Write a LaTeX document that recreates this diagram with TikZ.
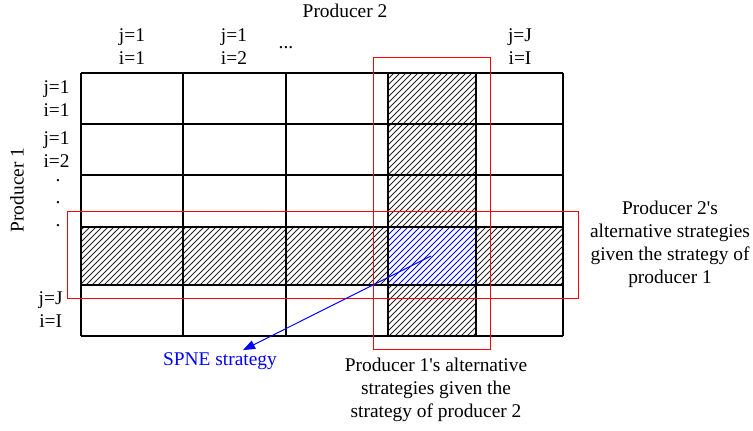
\documentclass[tikz,border=0pt]{standalone}
\usepackage{fontspec}
\setmainfont{Liberation Serif}
\usetikzlibrary{patterns,arrows.meta}
\begin{document}
\begin{tikzpicture}[x=0.5pt,y=-0.5pt,
		lbl/.style={font=\fontsize{9.7}{11.5}\selectfont,align=center,inner sep=1pt},
		redbox/.style={draw=red,line width=0.5pt},
		hatch/.style={pattern=north east lines,pattern color=black!85}]
	\useasboundingbox (0,0) rectangle (753,431);
	\fill[hatch] (388,73) rectangle (476,336);
	\fill[hatch] (81,227) rectangle (563,285);
	\fill[white] (388,227) rectangle (476,285);
	\fill[pattern=north east lines,pattern color=blue] (388,227) rectangle (476,285);
	\foreach \x in {81,183,286,388,476,563}
		\draw[line width=0.6pt] (\x,73) -- (\x,336);
	\foreach \y in {73,124,175,227,285,336}
		\draw[line width=0.6pt] (81,\y) -- (563,\y);
	\draw[line width=1pt] (388,73) rectangle (476,336);
	\draw[line width=1pt] (81,227) rectangle (563,285);
	\draw[redbox] (373,58) rectangle (490,350);
	\draw[redbox] (67,212) rectangle (578,299);
	\node[lbl] (prodtwo) at (345,11) {Producer 2};
	\node[lbl,rotate=90] (prodone) at (17,190) {Producer 1};
	\node[lbl] (colone) at (132,47) {j=1\\i=1};
	\node[lbl] (coltwo) at (234,47) {j=1\\i=2};
	\node[lbl,anchor=base] (coldots) at (286,49) {...};
	\node[lbl] (collast) at (520,47) {j=J\\i=I};
	\node[lbl,anchor=east] (rowone) at (72,99) {j=1\\i=1};
	\node[lbl,anchor=east] (rowtwo) at (72,150) {j=1\\i=2};
	\foreach \y/\n in {182/a,204/b,227/c}
		\node[lbl,anchor=base,inner sep=0pt,text height=1pt,text depth=0pt] (rowdot\n) at (58,\y) {.};
	\node[lbl,anchor=east] (rowlast) at (65,310) {j=J\\i=I};
	\coordinate (spne) at (431,256);
	\node[lbl,text=blue] (spnelbl) at (220,361) {SPNE strategy};
	\draw[blue,line width=0.5pt,-{Triangle[length=6pt,width=4.5pt]}] (spne) -- ([xshift=11.5pt]spnelbl.north);
	\node[lbl] (onealt) at (436,390) {Producer 1\textquotesingle s alternative\\strategies given the\\strategy of producer 2};
	\node[lbl] (twoalt) at (670,244) {Producer 2\textquotesingle s\\alternative strategies\\given the strategy of\\producer 1};
\end{tikzpicture}
\end{document}
